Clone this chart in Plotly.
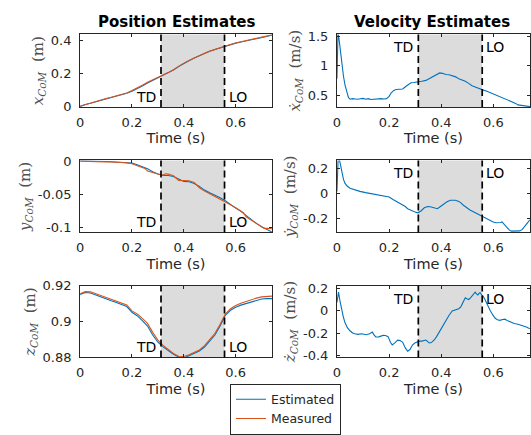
import plotly.graph_objects as go

# ---------------- data ----------------
TD = 0.312
LO = 0.557

T_POS = [0.00, 0.02, 0.04, 0.06, 0.08, 0.10, 0.12, 0.14, 0.16, 0.18, 0.20, 0.22, 0.24,
         0.26, 0.28, 0.30, 0.32, 0.34, 0.36, 0.38, 0.40, 0.42, 0.44, 0.46, 0.48, 0.50,
         0.52, 0.54, 0.56, 0.58, 0.60, 0.62, 0.64, 0.66, 0.68, 0.70, 0.72, 0.74]

X_EST = [0.003, 0.015, 0.022, 0.030, 0.040, 0.049, 0.057, 0.065, 0.072, 0.082, 0.094, 0.109,
         0.126, 0.144, 0.160, 0.176, 0.191, 0.205, 0.222, 0.243, 0.262, 0.277, 0.293, 0.307,
         0.322, 0.334, 0.345, 0.355, 0.365, 0.374, 0.383, 0.390, 0.396, 0.402, 0.408, 0.414,
         0.423, 0.432]
X_MEAS = [0.004, 0.014, 0.023, 0.031, 0.041, 0.050, 0.058, 0.066, 0.074, 0.084, 0.098, 0.112,
          0.130, 0.148, 0.162, 0.177, 0.190, 0.206, 0.223, 0.244, 0.263, 0.278, 0.294, 0.308,
          0.323, 0.335, 0.346, 0.356, 0.366, 0.375, 0.384, 0.391, 0.397, 0.403, 0.409, 0.415,
          0.424, 0.433]

Y_EST = [0.0005, 0.0005, 0.0003, 0.0, -0.0003, -0.0006, -0.001, -0.0013, -0.0017, -0.002,
         -0.003, -0.0055, -0.0085, -0.0115, -0.016, -0.0195, -0.0215, -0.0215, -0.023, -0.027,
         -0.0305, -0.031, -0.0335, -0.038, -0.0435, -0.0475, -0.051, -0.055, -0.0595, -0.0655,
         -0.0705, -0.0755, -0.0815, -0.088, -0.0935, -0.0985, -0.1025, -0.1065]

T_YMEAS = [0.00, 0.02, 0.04, 0.06, 0.08, 0.10, 0.12, 0.14, 0.16, 0.18, 0.20, 0.22, 0.24, 0.25,
           0.26, 0.28, 0.30, 0.32, 0.33, 0.34, 0.36, 0.38, 0.40, 0.42, 0.44, 0.46, 0.48, 0.50,
           0.52, 0.54, 0.56, 0.58, 0.60, 0.62, 0.63, 0.64, 0.66, 0.68, 0.70, 0.71, 0.72, 0.74]
Y_MEAS = [0.0, 0.0, -0.0002, -0.0005, -0.0008, -0.0011, -0.0014, -0.0017, -0.002, -0.0025,
          -0.004, -0.0065, -0.0095, -0.011, -0.015, -0.0175, -0.0195, -0.021, -0.019, -0.0195,
          -0.022, -0.029, -0.029, -0.0295, -0.032, -0.040, -0.045, -0.049, -0.0535, -0.057,
          -0.0605, -0.0655, -0.070, -0.075, -0.0775, -0.0835, -0.0885, -0.093, -0.0975, -0.101,
          -0.101, -0.1015]

Z_EST = [0.9152, 0.9162, 0.9160, 0.9148, 0.9137, 0.9126, 0.9116, 0.9107, 0.9096, 0.9084,
         0.9052, 0.9033, 0.9006, 0.8975, 0.8925, 0.8885, 0.8859, 0.8838, 0.8818, 0.8802,
         0.8797, 0.8810, 0.8822, 0.8836, 0.8858, 0.8894, 0.8925, 0.8975, 0.9035, 0.9063,
         0.9080, 0.9092, 0.9101, 0.9110, 0.9120, 0.9126, 0.9128, 0.9128]
Z_MEAS = [0.9155, 0.9167, 0.9166, 0.9156, 0.9146, 0.9135, 0.9126, 0.9117, 0.9104, 0.9093,
          0.9060, 0.9043, 0.9018, 0.8990, 0.8940, 0.8897, 0.8867, 0.8842, 0.8822, 0.8807,
          0.8805, 0.8815, 0.8828, 0.8842, 0.8866, 0.8902, 0.8935, 0.8985, 0.9042, 0.9072,
          0.9090, 0.9103, 0.9113, 0.9122, 0.9131, 0.9138, 0.9142, 0.9142]

T_XDOT = [0.000, 0.004, 0.008, 0.018, 0.025, 0.031, 0.038, 0.044, 0.050, 0.060, 0.070, 0.080,
          0.090, 0.100, 0.110, 0.120, 0.130, 0.140, 0.150, 0.160, 0.170, 0.180, 0.190, 0.200,
          0.208, 0.218, 0.227, 0.240, 0.252, 0.265, 0.275, 0.284, 0.295, 0.310, 0.325, 0.341,
          0.355, 0.366, 0.380, 0.394, 0.405, 0.417, 0.430, 0.442, 0.455, 0.467, 0.480, 0.492,
          0.505, 0.518, 0.535, 0.550, 0.562, 0.575, 0.590, 0.606, 0.620, 0.631, 0.650, 0.669,
          0.685, 0.694, 0.710, 0.726, 0.740]
XDOT = [0.78, 1.55, 1.45, 1.05, 0.82, 0.67, 0.54, 0.46, 0.43, 0.44, 0.435, 0.43,
        0.44, 0.445, 0.43, 0.44, 0.425, 0.43, 0.44, 0.435, 0.44, 0.435, 0.44, 0.48,
        0.54, 0.58, 0.595, 0.60, 0.605, 0.65, 0.69, 0.71, 0.715, 0.72, 0.735, 0.75,
        0.78, 0.81, 0.84, 0.877, 0.87, 0.85, 0.845, 0.83, 0.81, 0.78, 0.76, 0.737,
        0.70, 0.66, 0.63, 0.60, 0.585, 0.567, 0.54, 0.51, 0.48, 0.46, 0.43, 0.395,
        0.36, 0.335, 0.32, 0.31, 0.305]

T_YDOT = [0.000, 0.005, 0.010, 0.018, 0.025, 0.031, 0.040, 0.050, 0.070, 0.088, 0.110, 0.139,
          0.165, 0.189, 0.200, 0.215, 0.227, 0.240, 0.252, 0.262, 0.271, 0.285, 0.297, 0.310,
          0.322, 0.335, 0.347, 0.358, 0.366, 0.375, 0.385, 0.397, 0.410, 0.422, 0.435, 0.445,
          0.454, 0.465, 0.473, 0.485, 0.498, 0.510, 0.523, 0.535, 0.548, 0.560, 0.574, 0.586,
          0.599, 0.610, 0.618, 0.627, 0.633, 0.642, 0.650, 0.660, 0.669, 0.685, 0.700, 0.710,
          0.717, 0.725, 0.732, 0.740]
YDOT = [0.015, 0.30, 0.26, 0.165, 0.11, 0.078, 0.055, 0.04, 0.025, 0.015, 0.005, -0.005,
        -0.015, -0.022, -0.03, -0.05, -0.065, -0.078, -0.09, -0.105, -0.122, -0.137, -0.147, -0.155,
        -0.14, -0.115, -0.105, -0.107, -0.11, -0.117, -0.122, -0.105, -0.085, -0.068, -0.055, -0.052,
        -0.055, -0.063, -0.072, -0.095, -0.117, -0.133, -0.147, -0.16, -0.172, -0.187, -0.202, -0.215,
        -0.227, -0.233, -0.235, -0.232, -0.227, -0.25, -0.272, -0.29, -0.30, -0.30, -0.298, -0.288,
        -0.272, -0.25, -0.23, -0.21]

T_ZDOT = [0.000, 0.006, 0.012, 0.018, 0.025, 0.031, 0.040, 0.050, 0.060, 0.069, 0.080, 0.094,
          0.104, 0.113, 0.125, 0.136, 0.142, 0.149, 0.160, 0.170, 0.177, 0.186, 0.196, 0.205,
          0.212, 0.222, 0.233, 0.242, 0.252, 0.262, 0.271, 0.280, 0.290, 0.300, 0.310, 0.318,
          0.326, 0.334, 0.341, 0.348, 0.354, 0.362, 0.373, 0.382, 0.392, 0.405, 0.417, 0.430,
          0.442, 0.455, 0.467, 0.475, 0.480, 0.486, 0.492, 0.500, 0.505, 0.512, 0.518, 0.524,
          0.530, 0.535, 0.540, 0.545, 0.549, 0.555, 0.560, 0.567, 0.577, 0.587, 0.597, 0.606,
          0.615, 0.625, 0.635, 0.644, 0.655, 0.669, 0.680, 0.694, 0.710, 0.726, 0.740]
ZDOT = [0.074, 0.166, 0.08, 0.004, -0.06, -0.107, -0.15, -0.178, -0.198, -0.205, -0.21, -0.205,
        -0.21, -0.213, -0.205, -0.19, -0.215, -0.233, -0.232, -0.222, -0.219, -0.22, -0.23, -0.28,
        -0.303, -0.285, -0.261, -0.265, -0.28, -0.33, -0.36, -0.345, -0.303, -0.285, -0.275, -0.27,
        -0.27, -0.268, -0.26, -0.275, -0.286, -0.283, -0.26, -0.23, -0.19, -0.135, -0.08, -0.04,
        -0.002, 0.01, 0.018, 0.035, 0.06, 0.09, 0.116, 0.105, 0.10, 0.115, 0.13, 0.15,
        0.166, 0.15, 0.14, 0.155, 0.16, 0.14, 0.13, 0.102, 0.05, 0.004, -0.035, -0.065,
        -0.08, -0.085, -0.078, -0.075, -0.09, -0.107, -0.113, -0.12, -0.13, -0.144, -0.16]

X_TICKS = [0, 0.2, 0.4, 0.6]
X_TICKTEXT = ["0", "0.2", "0.4", "0.6"]

BLUE = "#0072BD"
ORANGE = "#D95319"
AX = "#262626"

# ---------------- layout geometry ----------------
XD_L = [0.1444, 0.5085]
XD_R = [0.6318, 0.998]
YD = [[0.7575, 0.9333], [0.4529, 0.6276], [0.1494, 0.3234]]

panels = [
    (1, XD_L, YD[0], [0, 0.435], [0, 0.2, 0.4], ["0", "0.2", "0.4"],
     "<i>x</i><sub><i>CoM</i></sub>  (m)", "bottom"),
    (2, XD_R, YD[0], [0.30, 1.53], [0.5, 1, 1.5], ["0.5", "1", "1.5"],
     "<i>ẋ</i><sub><i>CoM</i></sub>  (m/s)", "top"),
    (3, XD_L, YD[1], [-0.107, 0.001], [-0.1, -0.05, 0], ["-0.1", "-0.05", "0"],
     "<i>y</i><sub><i>CoM</i></sub>  (m)", "bottom"),
    (4, XD_R, YD[1], [-0.31, 0.26], [-0.2, 0, 0.2], ["-0.2", "0", "0.2"],
     "<i>ẏ</i><sub><i>CoM</i></sub>  (m/s)", "top"),
    (5, XD_L, YD[2], [0.88, 0.92], [0.88, 0.9, 0.92], ["0.88", "0.9", "0.92"],
     "<i>z</i><sub><i>CoM</i></sub>  (m)", "bottom"),
    (6, XD_R, YD[2], [-0.415, 0.222], [-0.4, -0.2, 0, 0.2], ["-0.4", "-0.2", "0", "0.2"],
     "<i>ż</i><sub><i>CoM</i></sub>  (m/s)", "top"),
]

fig = go.Figure()

def ax_name(i, kind):
    return f"{kind}{'' if i == 1 else i}"

series = {
    1: [(T_POS, X_EST, BLUE, "Estimated"), (T_POS, X_MEAS, ORANGE, "Measured")],
    2: [(T_XDOT, XDOT, BLUE, "Estimated")],
    3: [(T_POS, Y_EST, BLUE, "Estimated"), (T_YMEAS, Y_MEAS, ORANGE, "Measured")],
    4: [(T_YDOT, YDOT, BLUE, "Estimated")],
    5: [(T_POS, Z_EST, BLUE, "Estimated"), (T_POS, Z_MEAS, ORANGE, "Measured")],
    6: [(T_ZDOT, ZDOT, BLUE, "Estimated")],
}

shapes = []
annotations = []
layout_axes = {}
for (i, xd, yd, yr, yt, ytt, ytitle, lab) in panels:
    xa = ax_name(i, "x")
    ya = ax_name(i, "y")
    for (tt, vv, col, nm) in series[i]:
        fig.add_trace(go.Scatter(
            x=tt, y=vv, mode="lines", name=nm,
            line=dict(color=col, width=1.1),
            xaxis=xa, yaxis=ya,
            showlegend=(i == 5),
        ))
    common = dict(showline=True, linecolor=AX, linewidth=1, mirror="ticks",
                  ticks="inside", ticklen=3, tickcolor=AX, tickwidth=1,
                  showgrid=False, zeroline=False,
                  tickfont=dict(family="DejaVu Sans", size=13, color=AX))
    layout_axes[ax_name(i, "xaxis")] = dict(
        common, domain=xd, anchor=ya, range=[0, 0.74],
        tickvals=X_TICKS, ticktext=X_TICKTEXT, ticklabelstandoff=3,
        title=dict(text="Time (s)", font=dict(family="DejaVu Sans", size=14.5, color=AX),
                   standoff=4))
    layout_axes[ax_name(i, "yaxis")] = dict(
        common, domain=yd, anchor=xa, range=yr,
        tickvals=yt, ticktext=ytt, ticklabelstandoff=5,
        title=dict(text=ytitle, font=dict(family="DejaVu Serif", size=15, color="#505050"),
                   standoff=3))
    shapes.append(dict(type="rect", xref=xa, yref=f"{ya} domain", x0=TD, x1=LO, y0=0, y1=1,
                       fillcolor="#dcdcdc", line=dict(width=0), layer="below"))
    for xv in (TD, LO):
        shapes.append(dict(type="line", xref=xa, yref=f"{ya} domain", x0=xv, x1=xv, y0=0, y1=1,
                           line=dict(color="black", width=1.7, dash="7px,4px"), layer="above"))
    if lab == "bottom":
        yy, yanc, ysh = 0, "bottom", 0
    else:
        yy, yanc, ysh = 1, "top", -3
    annotations.append(dict(text="TD", xref=xa, yref=f"{ya} domain", x=TD, y=yy,
                            xanchor="right", yanchor=yanc, xshift=-3, yshift=ysh, showarrow=False,
                            font=dict(family="DejaVu Sans", size=14, color="black")))
    annotations.append(dict(text="LO", xref=xa, yref=f"{ya} domain", x=LO, y=yy,
                            xanchor="left", yanchor=yanc, xshift=2, yshift=ysh, showarrow=False,
                            font=dict(family="DejaVu Sans", size=14, color="black")))

annotations.append(dict(text="<b>Position Estimates</b>", xref="paper", yref="paper",
                        x=(XD_L[0] + XD_L[1]) / 2, y=0.964, xanchor="center", yanchor="middle",
                        showarrow=False, font=dict(family="DejaVu Sans", size=15, color="black")))
annotations.append(dict(text="<b>Velocity Estimates</b>", xref="paper", yref="paper",
                        x=(XD_R[0] + XD_R[1]) / 2 - 0.003, y=0.964, xanchor="center",
                        yanchor="middle", showarrow=False,
                        font=dict(family="DejaVu Sans", size=15, color="black")))

fig.update_layout(
    width=531, height=435,
    margin=dict(l=0, r=0, t=0, b=0),
    paper_bgcolor="white", plot_bgcolor="white",
    shapes=shapes, annotations=annotations,
    legend=dict(x=0.4288, y=0.086, xanchor="left", yanchor="top",
                bordercolor=AX, borderwidth=1, bgcolor="white",
                font=dict(family="DejaVu Sans", size=12.5, color=AX),
                tracegroupgap=0, itemwidth=30),
    **layout_axes,
)

fig.write_html("out.html")
